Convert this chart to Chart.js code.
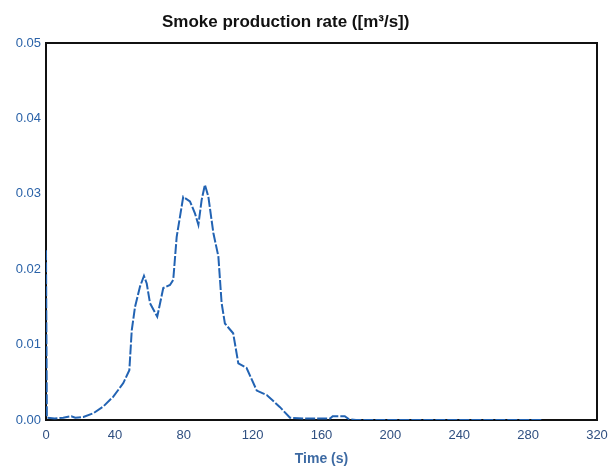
<!DOCTYPE html>
<html>
<head>
<meta charset="utf-8">
<script src="https://cdn.jsdelivr.net/npm/chart.js@4/dist/chart.umd.min.js"></script>
<style>
    html, body { margin: 0; padding: 0; background: #fff; }
    #wrap { width: 610px; height: 468px; }
</style>
</head>
<body>
<div id="wrap"><canvas id="myChart"></canvas></div>
<script>
// time in seconds, smoke production rate in m3/s
const timeValues = [0, 0.5, 5, 10, 14.7, 17, 21.7, 27.5, 33.3, 39.1, 44.9, 48.4, 49.8, 51.7, 54.6, 56.9, 58.5, 60.4, 64.6,
    68.1, 72, 73.9, 75.9, 79.7, 83.6, 86.5, 88.5, 90.4, 92.3, 94.3, 97.2, 100.1, 102, 103.9, 108.7, 111.7, 116.5,
    122.4, 128.2, 135.9, 141.7, 150, 160, 165, 166.5, 173.5, 176, 180, 200, 220, 240, 260, 280, 288];
const smokeValues = [0.0225, 0.0003, 0.0002, 0.0003, 0.0005, 0.0003, 0.0004, 0.0009, 0.0018, 0.0031, 0.0049, 0.0066, 0.0119,
    0.015, 0.0177, 0.0191, 0.0181, 0.0155, 0.0137, 0.0175, 0.0179, 0.0186, 0.0243, 0.0296, 0.029, 0.0274, 0.0259,
    0.0292, 0.0312, 0.0296, 0.0248, 0.0217, 0.0155, 0.0128, 0.0115, 0.0075, 0.0069, 0.0039, 0.0033, 0.0017, 0.0003,
    0.0002, 0.0002, 0.0002, 0.0005, 0.0005, 0.0001, 0, 0, 0, 0, 0, 0, 0];
const xTicks = [0, 40, 80, 120, 160, 200, 240, 280, 320];
const yTicks = [0, 0.01, 0.02, 0.03, 0.04, 0.05];

const chartTitle = 'Smoke production rate ([m\u00B3/s])';
const xLabel = 'Time (s)';

// black frame round the plot, drawn under the curve
const framePlugin = {
    id: 'frame',
    beforeDatasetsDraw(chart) {
        const a = chart.chartArea;
        const ctx = chart.ctx;
        ctx.save();
        ctx.strokeStyle = '#111';
        ctx.lineWidth = 2;
        ctx.strokeRect(a.left, a.top, a.right - a.left, a.bottom - a.top);
        ctx.restore();
    },
    afterDraw(chart) {
        const a = chart.chartArea;
        const ctx = chart.ctx;
        ctx.save();
        ctx.fillStyle = '#111';
        ctx.font = 'bold 17px "Liberation Sans", Arial, sans-serif';
        ctx.textAlign = 'center';
        ctx.textBaseline = 'middle';
        ctx.fillText(chartTitle, a.left + (a.right - a.left) * 0.435, 22);
        ctx.restore();
    }
};

const ctx = document.getElementById('myChart').getContext('2d');
const myChart = new Chart(ctx, {
    type: 'line',
    data: {
        datasets: [{
            label: 'Smoke production rate',
            data: timeValues.map((t, i) => ({ x: t, y: smokeValues[i] })),
            borderColor: '#2263b3',
            borderWidth: 2,
            borderDash: [10, 2],
            pointRadius: 0,
            tension: 0,
            fill: false
        }]
    },
    options: {
        responsive: true,
        maintainAspectRatio: false,
        animation: false,
        layout: { padding: { top: 43, right: 13, left: 0, bottom: 0 } },
        plugins: {
            legend: { display: false },
            title: { display: false },
            tooltip: { enabled: false }
        },
        scales: {
            x: {
                type: 'linear',
                min: 0,
                max: 320,
                afterBuildTicks: scale => { scale.ticks = xTicks.map(v => ({ value: v })); },
                afterFit: scale => {
                    scale.height = 48;
                    scale.paddingLeft = 0;
                    scale.paddingRight = 0;
                },
                grid: { display: false, drawTicks: false },
                border: { display: false },
                ticks: {
                    color: '#2f4f80',
                    padding: 8,
                    maxRotation: 0,
                    font: { family: '"Liberation Sans", Arial, sans-serif', size: 13 }
                },
                title: {
                    display: true,
                    text: xLabel,
                    color: '#3d6aa3',
                    padding: { top: 3, bottom: 0 },
                    font: { family: '"Liberation Sans", Arial, sans-serif', size: 14, weight: 'bold' }
                }
            },
            y: {
                type: 'linear',
                min: 0,
                max: 0.05,
                afterBuildTicks: scale => { scale.ticks = yTicks.map(v => ({ value: v })); },
                afterFit: scale => { scale.width = 46; },
                grid: { display: false, drawTicks: false },
                border: { display: false },
                ticks: {
                    color: '#2a62a8',
                    padding: 5,
                    callback: v => v.toFixed(2),
                    font: { family: '"Liberation Sans", Arial, sans-serif', size: 13 }
                }
            }
        }
    },
    plugins: [framePlugin]
});
</script>
</body>
</html>
